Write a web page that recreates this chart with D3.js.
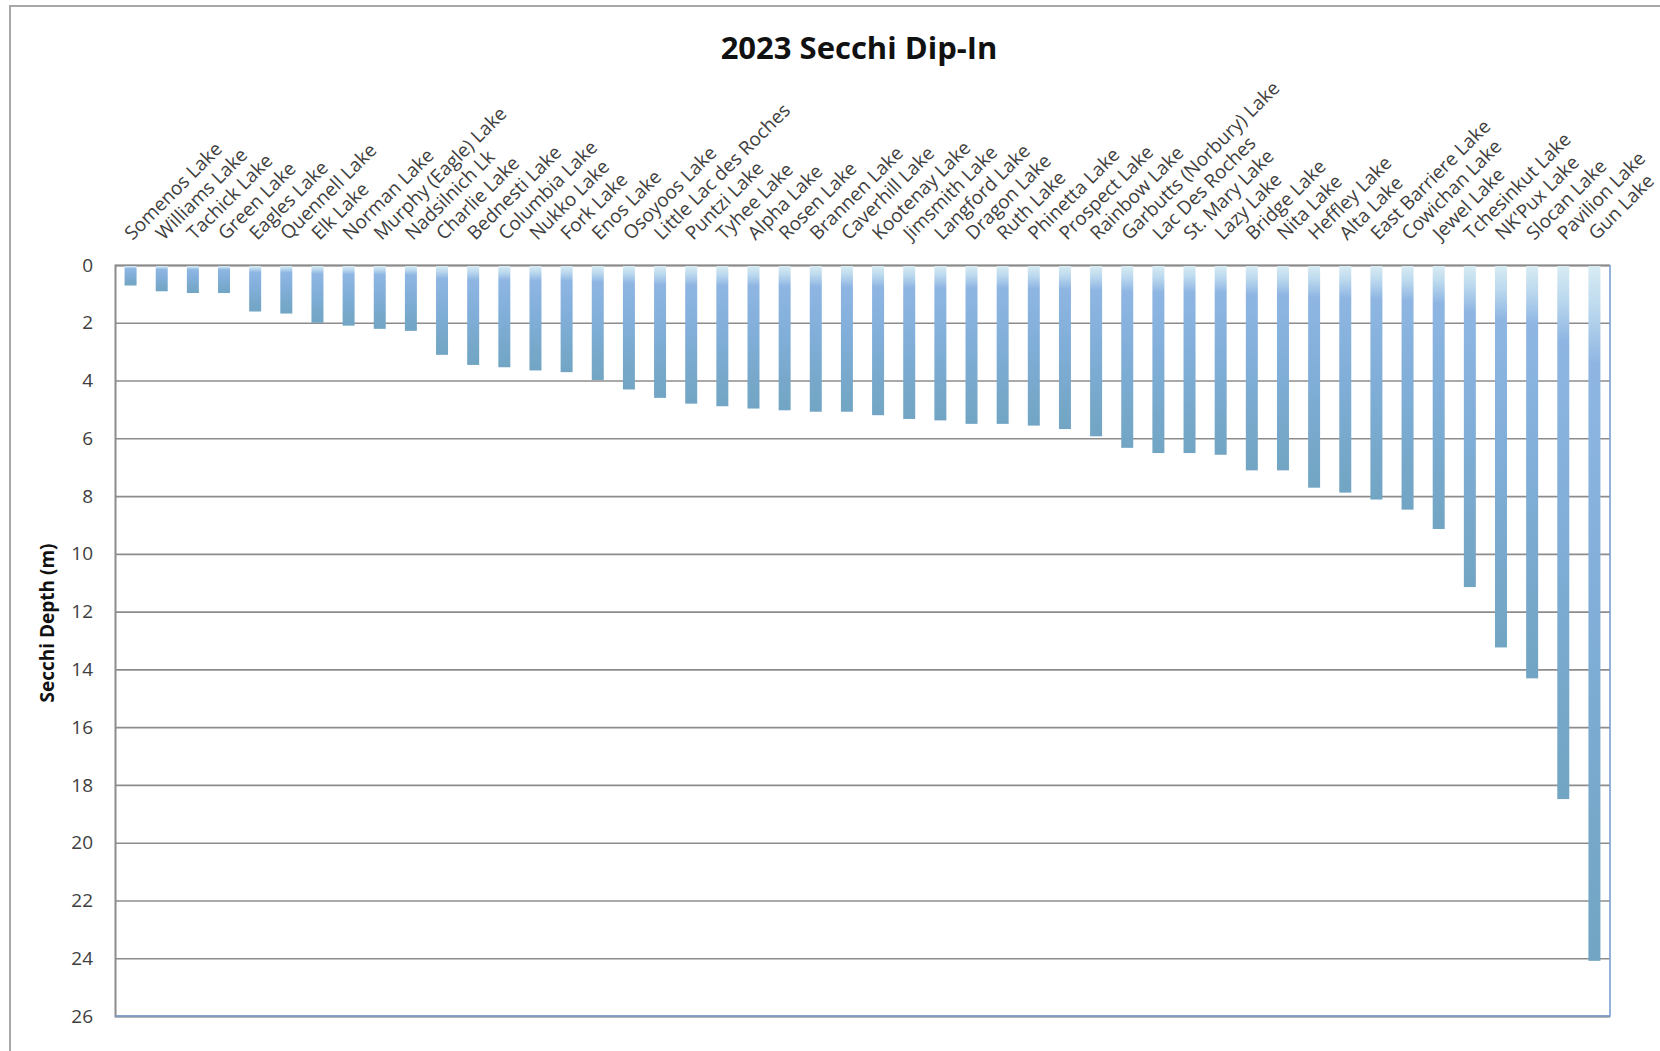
<!DOCTYPE html>
<html>
<head>
<meta charset="utf-8">
<script src="https://cdn.jsdelivr.net/npm/d3@7"></script>
<style>
  body { margin: 0; background: #fff; }
  svg { display: block; font-family: "Open Sans", sans-serif; }
</style>
</head>
<body>
<svg width="1660" height="1051"></svg>
<script>
// ====================== DATA ======================
const lakes = [
  "Somenos Lake", "Williams Lake", "Tachick Lake", "Green Lake", "Eagles Lake",
  "Quennell Lake", "Elk Lake", "Norman Lake", "Murphy (Eagle) Lake", "Nadsilnich Lk",
  "Charlie Lake", "Bednesti Lake", "Columbia Lake", "Nukko Lake", "Fork Lake",
  "Enos Lake", "Osoyoos Lake", "Little Lac des Roches", "Puntzi Lake", "Tyhee Lake",
  "Alpha Lake", "Rosen Lake", "Brannen Lake", "Caverhill Lake", "Kootenay Lake",
  "Jimsmith Lake", "Langford Lake", "Dragon Lake", "Ruth Lake", "Phinetta Lake",
  "Prospect Lake", "Rainbow Lake", "Garbutts (Norbury) Lake", "Lac Des Roches", "St. Mary Lake",
  "Lazy Lake", "Bridge Lake", "Nita Lake", "Heffley Lake", "Alta Lake",
  "East Barriere Lake", "Cowichan Lake", "Jewel Lake", "Tchesinkut Lake", "NK'Pux Lake",
  "Slocan Lake", "Pavilion Lake", "Gun Lake"
];

// secchi depth in metres
const depths = [
  0.71, 0.91, 0.97, 0.97, 1.61, 1.68, 2.0, 2.1, 2.21, 2.28,
  3.11, 3.46, 3.54, 3.65, 3.71, 3.98, 4.31, 4.6, 4.8, 4.89,
  4.97, 5.03, 5.08, 5.08, 5.2, 5.33, 5.38, 5.5, 5.5, 5.56,
  5.68, 5.93, 6.33, 6.51, 6.51, 6.57, 7.11, 7.11, 7.71, 7.88,
  8.12, 8.47, 9.14, 11.15, 13.24, 14.31, 18.49, 24.09
];

const yTicks = [0, 2, 4, 6, 8, 10, 12, 14, 16, 18, 20, 22, 24, 26];

const chartTitle = "2023 Secchi Dip-In";
const yTitle = "Secchi Depth (m)";

// ====================== SETUP ======================
const svg = d3.select("svg");
const plot = { left: 115, right: 1610, top: 265, bottom: 1016 };

const data = lakes.map((name, i) => ({ name: name, depth: depths[i] }));

const x = d3.scaleBand()
  .domain(lakes)
  .range([plot.left, plot.right])
  .paddingInner(0.615)
  .paddingOuter(0.3075);

// depth grows downward
const y = d3.scaleLinear()
  .domain([0, 26])
  .range([plot.top, plot.bottom]);

// outer frame (only left + top are inside the window)
svg.append("rect")
  .attr("x", 10).attr("y", 6)
  .attr("width", 1700).attr("height", 1100)
  .attr("fill", "none")
  .attr("stroke", "#a8a8a8")
  .attr("stroke-width", 2);

// bar gradient, scales with each bar
const grad = svg.append("defs").append("linearGradient")
  .attr("id", "barFill")
  .attr("x1", 0).attr("y1", 0).attr("x2", 0).attr("y2", 1);
[
  [0, "#d8ecf3"], [0.06, "#bcd9ee"], [0.14, "#8fb6e3"],
  [0.5, "#80aed8"], [0.8, "#77a8ca"], [1, "#72a5c4"]
].forEach(s => grad.append("stop").attr("offset", s[0]).attr("stop-color", s[1]));

// ====================== GRID + AXES ======================
const yAxis = d3.axisLeft(y)
  .tickValues(yTicks)
  .tickSize(-(plot.right - plot.left))
  .tickPadding(22)
  .tickFormat(d3.format("d"));

const gy = svg.append("g")
  .attr("transform", `translate(${plot.left},0)`)
  .call(yAxis);

gy.select(".domain").attr("stroke", "#8c8c8c").attr("stroke-width", 2);
gy.selectAll(".tick line").attr("stroke", "#8c8c8c").attr("stroke-width", 1.6);
gy.selectAll(".tick text")
  .attr("fill", "#404040")
  .style("font-size", "19px")
  .style("font-family", "'Open Sans', sans-serif");

// right + bottom border in blue
svg.append("path")
  .attr("d", `M${plot.right},${plot.top}V${plot.bottom}H${plot.left}`)
  .attr("fill", "none")
  .attr("stroke", "#7a9fd0")
  .attr("stroke-width", 1.6);

// ====================== BARS ======================
svg.append("g")
  .selectAll("rect")
  .data(data)
  .enter()
  .append("rect")
  .attr("x", d => x(d.name))
  .attr("y", y(0) + 1)
  .attr("width", x.bandwidth())
  .attr("height", d => y(d.depth) - y(0) - 1)
  .attr("fill", "url(#barFill)");

// ====================== LABELS ======================
svg.append("g")
  .selectAll("text")
  .data(data)
  .enter()
  .append("text")
  .attr("transform", d => `translate(${x(d.name) + x.bandwidth() / 2 + 2},${plot.top - 24}) rotate(-45)`)
  .attr("text-anchor", "start")
  .attr("fill", "#404040")
  .style("font-size", "19px")
  .text(d => d.name);

svg.append("text")
  .attr("x", 859).attr("y", 59)
  .attr("text-anchor", "middle")
  .attr("fill", "#111")
  .style("font-size", "31px")
  .style("font-weight", "bold")
  .text(chartTitle);

svg.append("text")
  .attr("transform", "translate(54,623) rotate(-90)")
  .attr("text-anchor", "middle")
  .attr("fill", "#111")
  .style("font-size", "19px")
  .style("font-weight", "bold")
  .text(yTitle);
</script>
</body>
</html>
